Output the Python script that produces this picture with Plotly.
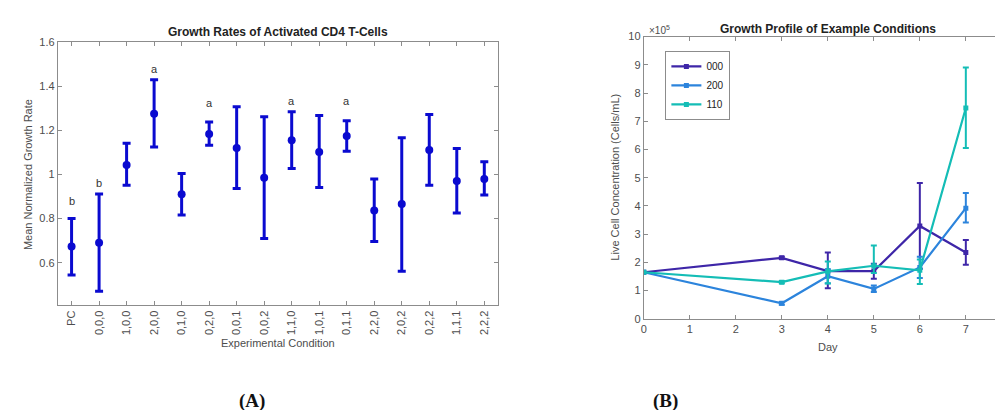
import plotly.graph_objects as go

# ---- Panel A data ----
conditions = ["PC", "0,0,0", "1,0,0", "2,0,0", "0,1,0", "0,2,0", "0,0,1", "0,0,2",
              "1,1,0", "1,0,1", "0,1,1", "2,2,0", "2,0,2", "0,2,2", "1,1,1", "2,2,2"]
growth_mean = [0.673, 0.690, 1.043, 1.275, 0.910, 1.184, 1.120, 0.985,
               1.155, 1.102, 1.174, 0.836, 0.866, 1.111, 0.970, 0.979]
growth_upper = [0.800, 0.911, 1.141, 1.429, 1.004, 1.238, 1.307, 1.262,
                1.284, 1.267, 1.243, 0.979, 1.166, 1.272, 1.118, 1.058]
growth_lower = [0.544, 0.470, 0.951, 1.124, 0.816, 1.133, 0.936, 0.709,
                1.027, 0.941, 1.105, 0.696, 0.561, 0.951, 0.825, 0.907]
letter_cats = ["PC", "0,0,0", "2,0,0", "0,2,0", "1,1,0", "0,1,1"]
letter_text = ["b", "b", "a", "a", "a", "a"]
letter_y = [0.88, 0.96, 1.476, 1.324, 1.335, 1.335]
a_yticks = [0.6, 0.8, 1.0, 1.2, 1.4, 1.6]
a_yticklabels = ["0.6", "0.8", "1", "1.2", "1.4", "1.6"]

# ---- Panel B data (cells/mL) ----
days = [0, 3, 4, 5, 6, 7]
series_names = ["000", "200", "110"]
s000_mean = [1.65e5, 2.16e5, 1.69e5, 1.69e5, 3.29e5, 2.35e5]
s000_upper = [1.65e5, 2.20e5, 2.35e5, 1.95e5, 4.81e5, 2.79e5]
s000_lower = [1.65e5, 2.12e5, 1.08e5, 1.42e5, 1.77e5, 1.92e5]
s200_mean = [1.65e5, 0.55e5, 1.51e5, 1.06e5, 1.82e5, 3.92e5]
s200_upper = [1.65e5, 0.60e5, 1.76e5, 1.18e5, 2.20e5, 4.46e5]
s200_lower = [1.65e5, 0.50e5, 1.26e5, 0.95e5, 1.45e5, 3.41e5]
s110_mean = [1.65e5, 1.30e5, 1.68e5, 1.88e5, 1.72e5, 7.47e5]
s110_upper = [1.65e5, 1.34e5, 2.03e5, 2.60e5, 2.10e5, 8.91e5]
s110_lower = [1.65e5, 1.26e5, 1.25e5, 1.62e5, 1.23e5, 6.05e5]
b_yticks = [0, 1e5, 2e5, 3e5, 4e5, 5e5, 6e5, 7e5, 8e5, 9e5, 10e5]
b_yticklabels = ["0", "1", "2", "3", "4", "5", "6", "7", "8", "9", "10"]
b_xticks = [0, 1, 2, 3, 4, 5, 6, 7, 8]

W, H = 1003, 410
FONT = "Liberation Sans, Arial, sans-serif"
TICKC = "#4d4d4d"
AXC = "#8c8c8c"

fig = go.Figure()

# Panel A
xpos = list(range(1, len(conditions) + 1))
fig.add_trace(go.Scatter(
    x=xpos, y=growth_mean, mode="markers",
    marker=dict(color="#0a0ad0", size=8),
    error_y=dict(type="data", symmetric=False,
                 array=[u - m for u, m in zip(growth_upper, growth_mean)],
                 arrayminus=[m - l for m, l in zip(growth_mean, growth_lower)],
                 color="#0a0ad0", thickness=3, width=4),
    showlegend=False, xaxis="x", yaxis="y"))

for c, t, yv in zip(letter_cats, letter_text, letter_y):
    fig.add_annotation(x=conditions.index(c) + 1, y=yv, text=t, showarrow=False,
                       xref="x", yref="y", font=dict(family=FONT, size=11, color="#333333"))

# Panel B
colors = ["#3e26a8", "#2c84dc", "#14bdb6"]
for name, col, m, u, l in zip(series_names, colors,
                              [s000_mean, s200_mean, s110_mean],
                              [s000_upper, s200_upper, s110_upper],
                              [s000_lower, s200_lower, s110_lower]):
    fig.add_trace(go.Scatter(
        x=days, y=m, mode="lines+markers", name=name,
        line=dict(color=col, width=2.2),
        marker=dict(color=col, size=5, symbol="square"),
        error_y=dict(type="data", symmetric=False,
                     array=[a - b for a, b in zip(u, m)],
                     arrayminus=[b - c for b, c in zip(m, l)],
                     color=col, thickness=2, width=3),
        xaxis="x2", yaxis="y2"))

axis_common = dict(showline=True, linecolor=AXC, linewidth=1, mirror="ticks",
                   ticks="inside", ticklen=4, tickcolor=AXC, showgrid=False,
                   zeroline=False, tickfont=dict(family=FONT, size=11, color=TICKC))

fig.update_layout(
    width=W, height=H, margin=dict(l=0, r=0, t=0, b=0),
    paper_bgcolor="white", plot_bgcolor="white",
    font=dict(family=FONT, color=TICKC),
    xaxis=dict(domain=[47 / W, 489 / W], range=[0.5, 16.5], tickmode="array",
               tickvals=xpos, ticktext=conditions, tickangle=-90, **axis_common),
    yaxis=dict(domain=[1 - 300 / H, 1 - 29 / H], range=[0.407, 1.6], tickmode="array",
               tickvals=a_yticks, ticktext=a_yticklabels, **axis_common),
    xaxis2=dict(domain=[635.3 / W, 1.0], range=[0, 7.96], tickmode="array",
                tickvals=b_xticks, ticktext=[str(v) for v in b_xticks], anchor="y2",
                **axis_common),
    yaxis2=dict(domain=[1 - 314 / H, 1 - 23.3 / H], range=[0, 10e5], tickmode="array",
                tickvals=b_yticks, ticktext=b_yticklabels, anchor="x2", **axis_common),
    legend=dict(x=657 / W, y=1 - 38 / H, xanchor="left", yanchor="top",
                bgcolor="white", bordercolor=AXC, borderwidth=1,
                font=dict(family=FONT, size=10, color="#222222"),
                itemwidth=30, tracegroupgap=0),
)

def txt(x, y, text, size=11, angle=0, color=TICKC, family=FONT):
    fig.add_annotation(x=x / W, y=1 - y / H, xref="paper", yref="paper", text=text,
                       showarrow=False, textangle=angle,
                       font=dict(family=family, size=size, color=color),
                       xanchor="center", yanchor="middle")

txt(268, 19, "<b>Growth Rates of Activated CD4 T-Cells</b>", size=12, color="#222222")
txt(268, 339, "Experimental Condition", size=11)
txt(17, 165, "Mean Normalized Growth Rate", size=11, angle=-90)
txt(820, 15, "<b>Growth Profile of Example Conditions</b>", size=12, color="#222222")
txt(820, 343, "Day", size=11)
txt(607, 168, "Live Cell Concentration (Cells/mL)", size=11, angle=-90)
txt(651, 16, "×10<sup>5</sup>", size=10)
txt(242, 399, "<b>(A)</b>", size=19, color="#111111", family="Liberation Serif, serif")
txt(657, 399, "<b>(B)</b>", size=19, color="#111111", family="Liberation Serif, serif")

fig.write_html("out.html")
